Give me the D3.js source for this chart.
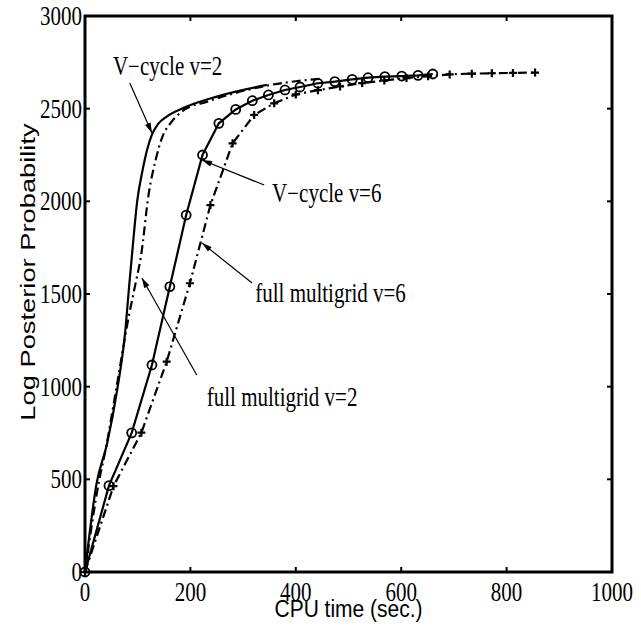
<!DOCTYPE html>
<html>
<head>
<meta charset="utf-8">
<script src="https://cdn.jsdelivr.net/npm/d3@7"></script>
<style>
  body { margin: 0; background: #fff; }
  .serif { font-family: "Liberation Serif", "Times New Roman", serif; }
  .sans { font-family: "Liberation Sans", Arial, sans-serif; }
</style>
</head>
<body>
<div id="chart-area"></div>
<script>
// V-cycle v=2 (solid, no markers)
var vcycle2 = [[0,0],[22,478],[42,694],[61,982],[76,1288],[84,1550],[92,1800],[99,2000],[108,2150],[118,2280],[127,2360],[138,2415],[155,2457],[193,2511],[250,2565],[345,2628]];
// full multigrid v=2 (dash-dot, no markers)
var fullmg2 = [[0,0],[27,496],[39,658],[61,1018],[83,1378],[96,1558],[106,1700],[121,2043],[134,2223],[147,2349],[162,2421],[188,2493],[232,2538],[283,2583],[352,2628],[400,2648],[450,2662]];
// V-cycle v=6 (solid with circles)
var vcycle6X = [0,45.5,88.6,127,161,192,223,254,286,317.5,348,379.5,408,442,474,507,537,569,601,632,660];
var vcycle6Y = [0,466,751,1117,1540,1926,2250,2421,2496,2543,2574,2601,2617,2637,2646,2658,2667,2673,2676,2680,2687];
// full multigrid v=6 (dash-dot with plus)
var fullmg6X = [0,54,107,155,199,238,280,321,359,400,442,484,526,568,610,651,692,734,772,812,854];
var fullmg6Y = [0,463,752,1135,1558,1980,2313,2466,2529,2577,2600,2620,2638,2652,2665,2675,2685,2689,2691,2693,2695];

var xTicks = [0,200,400,600,800,1000];
var yTicks = [0,500,1000,1500,2000,2500,3000];

// labels with arrows: text pos, arrow tail, arrow tip (data units)
var notes = [
    {text:'V\u2212cycle v=2', x:53, y:2682, x1:85, y1:2638, x2:127, y2:2369},
    {text:'V\u2212cycle v=6', x:355, y:1996, x1:340, y1:2088, x2:222, y2:2223},
    {text:'full multigrid v=6', x:323, y:1457, x1:317, y1:1559, x2:222, y2:1775},
    {text:'full multigrid v=2', x:231, y:896, x1:212, y1:1063, x2:108, y2:1586}
];

var def = {
    width: 641,
    height: 637,
    left: 85,
    top: 16,
    right: 612,
    bottom: 572,
    stretch: 1.25
};

var svg = d3.select('#chart-area').append('svg')
    .attr('width', def.width)
    .attr('height', def.height);

svg.append('defs').append('marker')
    .attr('id', 'head')
    .attr('viewBox', '0 0 10 6')
    .attr('refX', 10).attr('refY', 3)
    .attr('markerWidth', 11).attr('markerHeight', 6)
    .attr('markerUnits', 'userSpaceOnUse')
    .attr('orient', 'auto')
    .append('path').attr('d', 'M0,0L10,3L0,6Z').attr('fill', '#000');

var x = d3.scaleLinear().domain([0,1000]).range([def.left, def.right]);
var y = d3.scaleLinear().domain([0,3000]).range([def.bottom, def.top]);

var zip = (xs, ys) => xs.map((v,i) => [v, ys[i]]);
var vc6 = zip(vcycle6X, vcycle6Y);
var fm6 = zip(fullmg6X, fullmg6Y);

var smooth = d3.line().x(d => x(d[0])).y(d => y(d[1])).curve(d3.curveMonotoneX);
var straight = d3.line().x(d => x(d[0])).y(d => y(d[1]));

var dashDot = '9,4,2,4';

svg.append('path').attr('d', smooth(fullmg2))
    .attr('fill','none').attr('stroke','#000').attr('stroke-width',2.2)
    .attr('stroke-dasharray', dashDot);
svg.append('path').attr('d', smooth(vcycle2))
    .attr('fill','none').attr('stroke','#000').attr('stroke-width',2.2);
svg.append('path').attr('d', straight(fm6))
    .attr('fill','none').attr('stroke','#000').attr('stroke-width',2.2)
    .attr('stroke-dasharray', dashDot);
svg.append('path').attr('d', straight(vc6))
    .attr('fill','none').attr('stroke','#000').attr('stroke-width',2.2);

// markers
svg.selectAll('.circ').data(vc6).enter().append('circle')
    .attr('class','circ')
    .attr('cx', d => x(d[0])).attr('cy', d => y(d[1]))
    .attr('r', 4.5)
    .attr('fill','none').attr('stroke','#000').attr('stroke-width',1.8);

svg.selectAll('.plus').data(fm6).enter().append('path')
    .attr('class','plus')
    .attr('d', d => {
        var px = x(d[0]), py = y(d[1]), s = 4;
        return 'M'+(px-s)+','+py+'H'+(px+s)+'M'+px+','+(py-s)+'V'+(py+s);
    })
    .attr('stroke','#000').attr('stroke-width',2.2);

// axes box
svg.append('rect')
    .attr('x', def.left).attr('y', def.top)
    .attr('width', def.right - def.left).attr('height', def.bottom - def.top)
    .attr('fill','none').attr('stroke','#000').attr('stroke-width',3);

var tl = 5;
xTicks.forEach(t => {
    svg.append('line').attr('x1',x(t)).attr('x2',x(t)).attr('y1',def.bottom).attr('y2',def.bottom-tl)
        .attr('stroke','#000').attr('stroke-width',2);
    svg.append('line').attr('x1',x(t)).attr('x2',x(t)).attr('y1',def.top).attr('y2',def.top+tl)
        .attr('stroke','#000').attr('stroke-width',2);
    svg.append('text').attr('class','serif')
        .attr('transform','translate('+x(t)+','+(def.bottom+29)+') scale(1,'+def.stretch+')')
        .attr('text-anchor','middle').attr('font-size','21px')
        .text(t);
});
yTicks.forEach(t => {
    svg.append('line').attr('x1',def.left).attr('x2',def.left+tl).attr('y1',y(t)).attr('y2',y(t))
        .attr('stroke','#000').attr('stroke-width',2);
    svg.append('line').attr('x1',def.right).attr('x2',def.right-tl).attr('y1',y(t)).attr('y2',y(t))
        .attr('stroke','#000').attr('stroke-width',2);
    svg.append('text').attr('class','serif')
        .attr('transform','translate('+(def.left-3)+','+(y(t)+9)+') scale(1,'+def.stretch+')')
        .attr('text-anchor','end').attr('font-size','21px')
        .text(t);
});

// axis titles
svg.append('text').attr('class','sans')
    .attr('transform','translate('+((def.left+def.right)/2)+',617) scale(1,1.15)')
    .attr('text-anchor','middle').attr('font-size','21px')
    .text('CPU time (sec.)');
svg.append('text').attr('class','sans')
    .attr('transform','translate(35,272) scale(1,1.3) rotate(-90)')
    .attr('text-anchor','middle').attr('font-size','21px')
    .text('Log Posterior Probability');

// annotations
notes.forEach(n => {
    svg.append('line')
        .attr('x1', x(n.x1)).attr('y1', y(n.y1))
        .attr('x2', x(n.x2)).attr('y2', y(n.y2))
        .attr('stroke','#000').attr('stroke-width',1.2)
        .attr('marker-end','url(#head)');
    svg.append('text').attr('class','serif')
        .attr('transform','translate('+x(n.x)+','+y(n.y)+') scale(1,'+def.stretch+')')
        .attr('font-size','21px')
        .text(n.text);
});
</script>
</body>
</html>
